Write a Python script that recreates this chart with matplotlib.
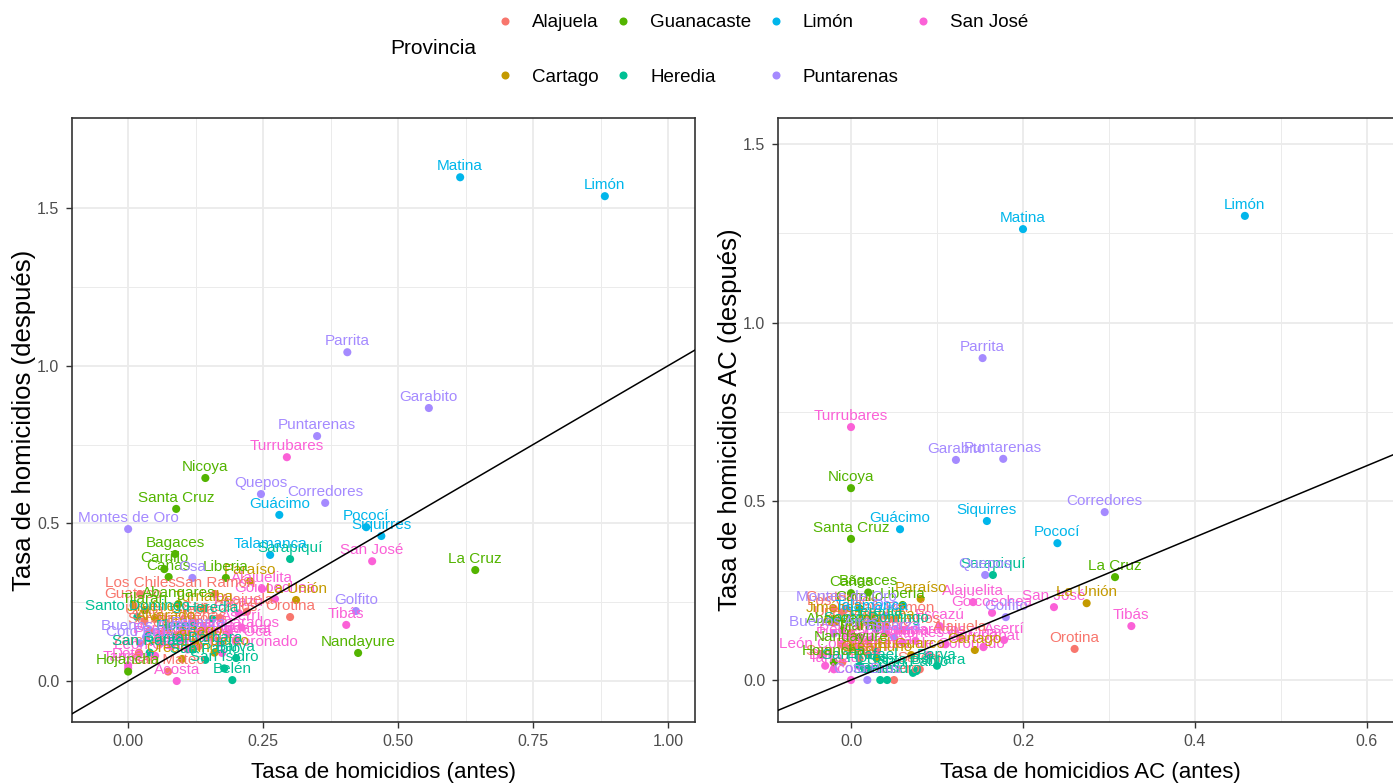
#! /usr/bin/env python3
#
# Tasa de homicidios por cantón: antes vs después (cruda y AC).
#

import numpy as np
import matplotlib
import matplotlib.pyplot as plt
from matplotlib.lines import Line2D
plt.switch_backend('agg')

##########
## DATA ##
##########

provincias = ['Alajuela', 'Cartago', 'Guanacaste', 'Heredia', 'Limón', 'Puntarenas', 'San José']
colores = ['#F8766D', '#C49A00', '#53B400', '#00C094', '#00B6EB', '#A58AFF', '#FB61D7']

cantones = ['San José', 'Escazú', 'Desamparados', 'Puriscal', 'Tarrazú', 'Aserrí', 'Mora',
            'Goicoechea', 'Santa Ana', 'Alajuelita', 'Vázquez de Coronado', 'Acosta', 'Tibás',
            'Moravia', 'Montes de Oca', 'Turrubares', 'Dota', 'Curridabat', 'Pérez Zeledón',
            'León Cortés',
            'Alajuela', 'San Ramón', 'Grecia', 'San Mateo', 'Atenas', 'Naranjo', 'Palmares',
            'Poás', 'Orotina', 'San Carlos', 'Zarcero', 'Sarchí', 'Upala', 'Los Chiles', 'Guatuso',
            'Cartago', 'Paraíso', 'La Unión', 'Jiménez', 'Turrialba', 'Alvarado', 'Oreamuno',
            'El Guarco',
            'Heredia', 'Barva', 'Santo Domingo', 'Santa Bárbara', 'San Rafael', 'San Isidro',
            'Belén', 'Flores', 'San Pablo', 'Sarapiquí',
            'Liberia', 'Nicoya', 'Santa Cruz', 'Bagaces', 'Carrillo', 'Cañas', 'Abangares',
            'Tilarán', 'Nandayure', 'La Cruz', 'Hojancha',
            'Puntarenas', 'Esparza', 'Buenos Aires', 'Montes de Oro', 'Osa', 'Quepos', 'Golfito',
            'Coto Brus', 'Parrita', 'Corredores', 'Garabito',
            'Limón', 'Pococí', 'Siquirres', 'Talamanca', 'Matina', 'Guácimo']

provincia = (['San José'] * 20 + ['Alajuela'] * 15 + ['Cartago'] * 8 + ['Heredia'] * 10
             + ['Guanacaste'] * 11 + ['Puntarenas'] * 11 + ['Limón'] * 6)

tasa_antes = [0.452, 0.205, 0.185, 0.060, 0.000, 0.210, 0.080,
              0.272, 0.110, 0.248, 0.174, 0.090, 0.404,
              0.150, 0.170, 0.294, 0.000, 0.200, 0.100,
              0.050,
              0.220, 0.161, 0.120, 0.074, 0.140, 0.100, 0.130,
              0.060, 0.300, 0.170, 0.020, 0.040, 0.030, 0.022, 0.010,
              0.124, 0.226, 0.311, 0.050, 0.140, 0.070, 0.100,
              0.160,
              0.156, 0.200, 0.017, 0.120, 0.040, 0.178,
              0.193, 0.090, 0.143, 0.300,
              0.181, 0.143, 0.089, 0.087, 0.067, 0.075, 0.093,
              0.031, 0.426, 0.643, 0.000,
              0.350, 0.130, 0.033, 0.000, 0.119, 0.246, 0.422,
              0.022, 0.406, 0.365, 0.557,
              0.883, 0.441, 0.469, 0.263, 0.615, 0.280]

tasa_despues = [0.380, 0.215, 0.150, 0.120, 0.040, 0.170, 0.110,
                0.260, 0.100, 0.292, 0.089, 0.000, 0.178,
                0.140, 0.120, 0.710, 0.050, 0.130, 0.130,
                0.080,
                0.220, 0.276, 0.190, 0.030, 0.170, 0.160, 0.110,
                0.150, 0.203, 0.200, 0.090, 0.160, 0.190, 0.276, 0.240,
                0.124, 0.317, 0.257, 0.200, 0.230, 0.170, 0.070,
                0.090,
                0.197, 0.073, 0.203, 0.100, 0.090, 0.040,
                0.003, 0.140, 0.067, 0.387,
                0.327, 0.644, 0.546, 0.403, 0.355, 0.330, 0.244,
                0.225, 0.089, 0.352, 0.030,
                0.777, 0.150, 0.140, 0.482, 0.327, 0.593, 0.222,
                0.120, 1.043, 0.565, 0.866,
                1.538, 0.488, 0.460, 0.400, 1.598, 0.527]

tasa_ac_antes = [0.236, 0.103, 0.075, -0.010, -0.020, 0.178, 0.010,
                 0.164, 0.030, 0.142, 0.090, 0.000, 0.326,
                 0.060, 0.110, 0.000, -0.030, 0.154, 0.020,
                 -0.035,
                 0.127, 0.050, 0.010, -0.010, 0.000, 0.040, 0.020,
                 0.010, 0.260, 0.060, 0.050, 0.080, -0.020, -0.010, -0.020,
                 0.144, 0.081, 0.274, -0.020, 0.040, 0.000, 0.030,
                 0.070,
                 0.030, 0.100, 0.029, 0.076, 0.010, 0.042,
                 0.034, 0.020, 0.072, 0.165,
                 0.060, 0.000, 0.000, 0.020, 0.010, 0.000, -0.010,
                 0.010, 0.000, 0.307, -0.020,
                 0.177, 0.050, -0.020, -0.005, 0.040, 0.156, 0.180,
                 0.019, 0.153, 0.295, 0.122,
                 0.458, 0.240, 0.158, 0.024, 0.200, 0.057]

tasa_ac_despues = [0.204, 0.151, 0.110, 0.100, 0.030, 0.112, 0.090,
                   0.188, 0.080, 0.218, 0.070, 0.000, 0.151,
                   0.105, 0.100, 0.708, 0.040, 0.092, 0.110,
                   0.070,
                   0.118, 0.170, 0.150, 0.050, 0.130, 0.130, 0.070,
                   0.060, 0.087, 0.140, 0.000, 0.030, 0.160, 0.190, 0.200,
                   0.084, 0.227, 0.215, 0.170, 0.150, 0.130, 0.060,
                   0.070,
                   0.160, 0.040, 0.143, 0.025, 0.040, 0.000,
                   0.000, 0.030, 0.020, 0.294,
                   0.210, 0.537, 0.395, 0.245, 0.200, 0.243, 0.140,
                   0.120, 0.090, 0.288, 0.050,
                   0.619, 0.120, 0.130, 0.200, 0.180, 0.294, 0.176,
                   0.000, 0.901, 0.470, 0.616,
                   1.299, 0.383, 0.445, 0.176, 1.262, 0.422]

##############
## SETTINGS ##
##############

W, H = 1393, 783
dpi = 100
plt.rcParams['font.family'] = ['Liberation Sans', 'DejaVu Sans']
# no narrow face installed: sizes chosen so text widths match the reference
label_size = 11
tick_size = 11.5
title_size = 16

color_of = dict(zip(provincias, colores))
pt_colors = [color_of[p] for p in provincia]

def px2fig(x0, y0, x1, y1):
    # pixel box (top-left origin) -> figure fraction rect
    return [x0 / W, 1 - y1 / H, (x1 - x0) / W, (y1 - y0) / H]

def style_axes(ax, xlim, ylim, xmaj, xmin, ymaj, ymin, xfmt):
    ax.set_xlim(*xlim)
    ax.set_ylim(*ylim)
    ax.set_xticks(xmaj)
    ax.set_xticks(xmin, minor=True)
    ax.set_yticks(ymaj)
    ax.set_yticks(ymin, minor=True)
    ax.set_xticklabels([xfmt % v for v in xmaj])
    ax.set_yticklabels(['%.1f' % v for v in ymaj])
    ax.grid(which='major', color='#EBEBEB', lw=1.3, zorder=0)
    ax.grid(which='minor', color='#EBEBEB', lw=0.7, zorder=0)
    ax.set_axisbelow(True)
    for s in ax.spines.values():
        s.set_color('#333333')
        s.set_linewidth(1.2)
    ax.tick_params(which='major', length=4, width=1.0, color='#333333',
                   labelsize=tick_size, labelcolor='#4D4D4D', pad=5)
    ax.tick_params(which='minor', length=0)

def draw_panel(ax, xs, ys):
    ax.scatter(xs, ys, s=34, c=pt_colors, linewidths=0, zorder=2)
    for name, x, y, c in zip(cantones, xs, ys, pt_colors):
        t = ax.annotate(name, (x, y), xytext=(0, 3), textcoords='offset points',
                        ha='center', va='bottom', fontsize=label_size, color=c, zorder=3)
        t.set_clip_on(True)
    ax.axline((0, 0), slope=1, color='black', lw=1.1, zorder=4)

##############
## Plotting ##
##############

fig = plt.figure(figsize=(W / dpi, H / dpi), dpi=dpi)

ax1 = fig.add_axes(px2fig(72, 118, 695, 722))
style_axes(ax1, (-0.104, 1.05), (-0.130, 1.786),
           [0, 0.25, 0.5, 0.75, 1.0], [0.125, 0.375, 0.625, 0.875],
           [0, 0.5, 1.0, 1.5], [0.25, 0.75, 1.25], '%.2f')
draw_panel(ax1, tasa_antes, tasa_despues)
ax1.set_xlabel('Tasa de homicidios (antes)', fontsize=title_size, labelpad=9)
ax1.set_ylabel('Tasa de homicidios (después)', fontsize=18.5)
ax1.yaxis.set_label_coords(-0.057, 0.5)

ax2 = fig.add_axes(px2fig(778, 118, 1402, 722))
style_axes(ax2, (-0.0849, 0.6407), (-0.1175, 1.573),
           [0, 0.2, 0.4, 0.6], [0.1, 0.3, 0.5],
           [0, 0.5, 1.0, 1.5], [0.25, 0.75, 1.25], '%.1f')
draw_panel(ax2, tasa_ac_antes, tasa_ac_despues)
ax2.set_xlabel('Tasa de homicidios AC (antes)', fontsize=title_size, labelpad=9)
ax2.set_ylabel('Tasa de homicidios AC (después)', fontsize=18.5)
ax2.yaxis.set_label_coords(-0.057, 0.5)

# Legend on top
handles = [Line2D([], [], ls='none', marker='o', ms=5.8, mec='none', mfc=c) for c in colores]
fig.text(390 / W, 1 - 49 / H, 'Provincia', fontsize=15, va='center', ha='left')
fig.legend(handles, provincias, ncol=4, loc='upper left',
           bbox_to_anchor=(496 / W, 1 - 14 / H), frameon=False, fontsize=13.5,
           borderpad=0, borderaxespad=0, handlelength=1.0, handletextpad=0.94,
           columnspacing=0.8, labelspacing=2.0)

fig.savefig('out.png', dpi=dpi)
